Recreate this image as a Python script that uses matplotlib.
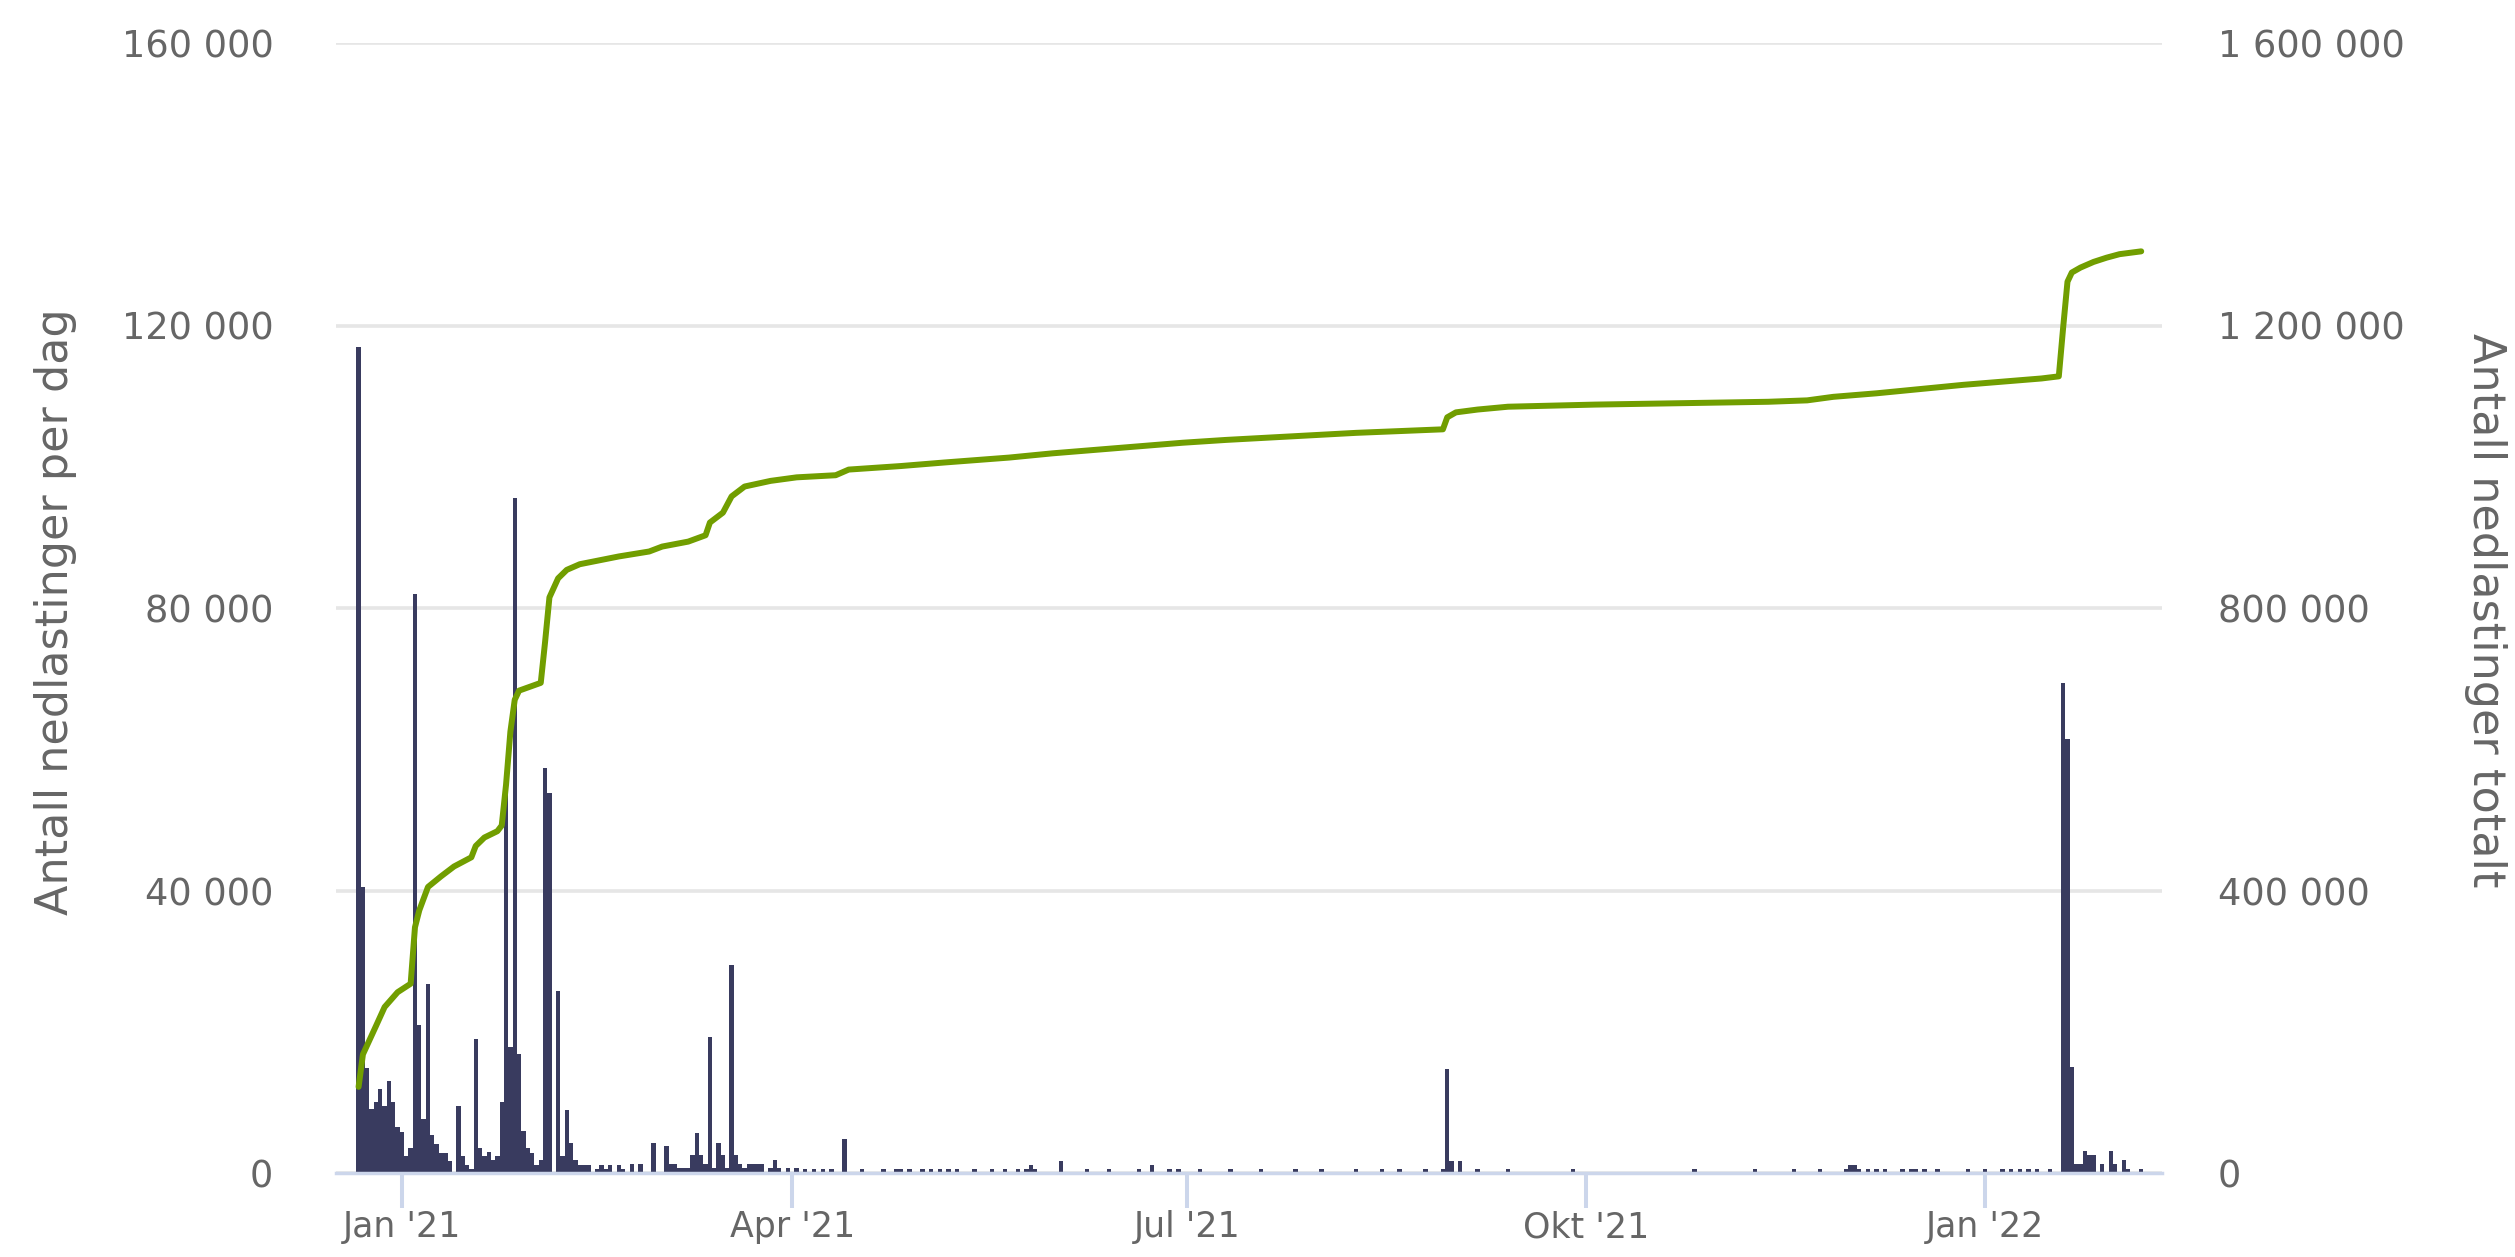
import matplotlib
matplotlib.use("Agg")
import matplotlib.pyplot as plt
import matplotlib.dates as mdates
import pandas as pd

# ---------------- data ----------------
daily_start = "2020-12-22"
# daily downloads, one value per day from 2020-12-22 to 2021-04-11
daily_early = [
    117000, 40500, 14800, 9000, 10000, 11900, 9500, 13000, 10000, 6500,
    5800, 2400, 3600, 82000, 20900, 7700, 26800, 5400, 4100, 2900,
    2900, 1700, 0, 9500, 2400, 1200, 600, 19000, 3500, 2400,
    3000, 1800, 2400, 10100, 55000, 17900, 95600, 16800, 6000, 3500,
    2900, 1200, 1800, 57400, 53800, 0, 25700, 2400, 8950, 4200,
    1800, 1200, 1200, 1200, 0, 600, 1200, 600, 1200, 0,
    1200, 600, 0, 1300, 0, 1300, 0, 0, 4300, 0,
    0, 3800, 1300, 1300, 750, 750, 750, 2600, 5600, 2600,
    1300, 19200, 750, 4300, 2600, 750, 29400, 2600, 1300, 750,
    1300, 1300, 1300, 1300, 0, 750, 1900, 750, 0, 750,
    0, 750, 0, 600, 0, 600, 0, 600, 0, 600, 0,
]
# later days with downloads (other days ~0)
tail_dates = [
    "2021-04-13", "2021-04-17", "2021-04-22", "2021-04-25", "2021-04-26",
    "2021-04-28", "2021-05-01", "2021-05-03", "2021-05-05", "2021-05-07",
    "2021-05-09", "2021-05-13", "2021-05-17", "2021-05-20", "2021-05-23",
    "2021-05-25", "2021-05-26", "2021-05-27", "2021-06-02", "2021-06-08",
    "2021-06-13", "2021-06-20", "2021-06-23", "2021-06-27", "2021-06-29",
    "2021-07-04", "2021-07-11", "2021-07-18", "2021-07-26", "2021-08-01",
    "2021-08-09", "2021-08-15", "2021-08-19", "2021-08-25", "2021-08-29",
    "2021-08-30", "2021-08-31", "2021-09-02", "2021-09-06", "2021-09-13",
    "2021-09-28", "2021-10-26", "2021-11-09", "2021-11-18", "2021-11-24",
    "2021-11-30", "2021-12-01", "2021-12-02", "2021-12-03", "2021-12-05",
    "2021-12-07", "2021-12-09", "2021-12-13", "2021-12-15", "2021-12-16",
    "2021-12-18", "2021-12-21", "2021-12-28", "2022-01-01", "2022-01-05",
    "2022-01-07", "2022-01-09", "2022-01-11", "2022-01-13", "2022-01-16",
    "2022-01-19", "2022-01-20", "2022-01-21", "2022-01-22", "2022-01-23",
    "2022-01-24", "2022-01-25", "2022-01-26", "2022-01-28", "2022-01-30",
    "2022-01-31", "2022-02-02", "2022-02-03", "2022-02-06",
]
tail_values = [
    4750, 570, 570, 570, 570,
    570, 570, 570, 570, 570,
    570, 570, 570, 570, 570,
    570, 1190, 570, 1760, 570,
    570, 570, 1190, 570, 570,
    570, 570, 570, 570, 570,
    570, 570, 570, 570, 570,
    14770, 1650, 1650, 520, 520,
    520, 520, 520, 520, 520,
    520, 1085, 1085, 520, 520,
    520, 520, 520, 520, 520,
    520, 520, 520, 520, 520,
    520, 520, 620, 620, 620,
    69400, 61500, 15000, 1340, 1340,
    3100, 2500, 2500, 1340, 3100,
    1340, 1800, 620, 620,
]
# cumulative total downloads (right axis)
total_dates = [
    "2020-12-22", "2020-12-23", "2020-12-26", "2020-12-28", "2020-12-31",
    "2021-01-03", "2021-01-04", "2021-01-05", "2021-01-07", "2021-01-10",
    "2021-01-13", "2021-01-17", "2021-01-18", "2021-01-20", "2021-01-23",
    "2021-01-24", "2021-01-25", "2021-01-26", "2021-01-27", "2021-01-28",
    "2021-02-02", "2021-02-03", "2021-02-04", "2021-02-06", "2021-02-08",
    "2021-02-11", "2021-02-20", "2021-02-27", "2021-03-02", "2021-03-08",
    "2021-03-12", "2021-03-13", "2021-03-16", "2021-03-18", "2021-03-21",
    "2021-03-27", "2021-04-02", "2021-04-11", "2021-04-14", "2021-04-26",
    "2021-05-06", "2021-05-21", "2021-05-31", "2021-06-10", "2021-06-20",
    "2021-06-30", "2021-07-10", "2021-07-25", "2021-08-09", "2021-08-29",
    "2021-08-30", "2021-09-01", "2021-09-06", "2021-09-13", "2021-10-03",
    "2021-10-23", "2021-11-12", "2021-11-21", "2021-11-27", "2021-12-07",
    "2021-12-17", "2021-12-27", "2022-01-06", "2022-01-14", "2022-01-18",
    "2022-01-19", "2022-01-20", "2022-01-21", "2022-01-23", "2022-01-26",
    "2022-01-29", "2022-02-01", "2022-02-06",
]
total_values = [
    122000, 168000, 208000, 235000, 256000,
    268000, 348000, 372000, 405000, 420000,
    434000, 447000, 463000, 475000, 484000,
    492000, 550000, 625000, 670000, 683000,
    694000, 752000, 815000, 842000, 854000,
    862000, 873000, 880000, 887000, 894000,
    903000, 921000, 935000, 958000, 972000,
    980000, 985000, 988000, 996000, 1001000,
    1006000, 1013000, 1019000, 1024000, 1029000,
    1034000, 1038000, 1043000, 1048000, 1053000,
    1070000, 1077000, 1081000, 1085000, 1088000,
    1090000, 1092000, 1094000, 1099000, 1104000,
    1110000, 1116000, 1121000, 1125000, 1128000,
    1197000, 1262000, 1275000, 1282000, 1290000,
    1296000, 1301000, 1305000,
]
xtick_dates = ["2021-01-01", "2021-04-01", "2021-07-01", "2021-10-01", "2022-01-01"]
xtick_labels = ["Jan '21", "Apr '21", "Jul '21", "Okt '21", "Jan '22"]
left_ticks = [0, 40000, 80000, 120000, 160000]
right_ticks = [0, 400000, 800000, 1200000, 1600000]
left_title = "Antall nedlastinger per dag"
right_title = "Antall nedlastinger totalt"
x_range = ["2020-12-16 19:00", "2022-02-10 19:00"]

# ---------------- style ----------------
W, H = 2515, 1257
BAR_COLOR = "#393b5f"
LINE_COLOR = "#719e00"
GRID_COLOR = "#e6e6e6"
AXIS_COLOR = "#ccd6eb"
TEXT_COLOR = "#666666"
plt.rcParams["font.family"] = ["DejaVu Sans"]

fig = plt.figure(figsize=(W / 100, H / 100), dpi=100)
left_px, right_px, top_px, bottom_px = 336, 2162, 43, 1173
ax = fig.add_axes([left_px / W, 1 - bottom_px / H,
                   (right_px - left_px) / W, (bottom_px - top_px) / H])
ax2 = ax.twinx()

d_early = pd.date_range(daily_start, periods=len(daily_early), freq="D")
d_tail = pd.to_datetime(tail_dates)
ax.bar(d_early, daily_early, width=1.0, color=BAR_COLOR, linewidth=0, zorder=2)
ax.bar(d_tail, tail_values, width=1.0, color=BAR_COLOR, linewidth=0, zorder=2)

ax2.plot(pd.to_datetime(total_dates), total_values, color=LINE_COLOR,
         linewidth=4.3, solid_capstyle="round", solid_joinstyle="round", zorder=3)

ax.set_xlim(mdates.date2num(pd.Timestamp(x_range[0])),
            mdates.date2num(pd.Timestamp(x_range[1])))
ax.set_ylim(left_ticks[0], left_ticks[-1])
ax2.set_ylim(right_ticks[0], right_ticks[-1])

fmt = lambda v: f"{int(v):,}".replace(",", " ")
ax.set_yticks(left_ticks)
ax.set_yticklabels([fmt(v) for v in left_ticks])
ax2.set_yticks(right_ticks)
ax2.set_yticklabels([fmt(v) for v in right_ticks])

ax.set_xticks(mdates.date2num(pd.to_datetime(xtick_dates)))
ax.set_xticklabels(xtick_labels)

ax.set_axisbelow(True)
ax.yaxis.grid(True, color=GRID_COLOR, linewidth=2.6)
for a in (ax, ax2):
    for s in ("top", "left", "right", "bottom"):
        a.spines[s].set_visible(False)
ax.axhline(0, color=AXIS_COLOR, linewidth=2.5, zorder=4, clip_on=False)

ax.tick_params(axis="y", length=0, pad=45, labelsize=26.5, labelcolor=TEXT_COLOR)
ax2.tick_params(axis="y", length=0, pad=40, labelsize=26.5, labelcolor=TEXT_COLOR)
ax.tick_params(axis="x", direction="out", length=25, width=2.9, color=AXIS_COLOR,
               pad=2, labelsize=25, labelcolor=TEXT_COLOR)

fig.text(56 / W, 1 - 612 / H, left_title, rotation=90, ha="center", va="center",
         fontsize=32, color=TEXT_COLOR)
fig.text(2485 / W, 1 - 610 / H, right_title, rotation=270, ha="center", va="center",
         fontsize=32, color=TEXT_COLOR)

fig.savefig("out.png", dpi=100, facecolor="white")
